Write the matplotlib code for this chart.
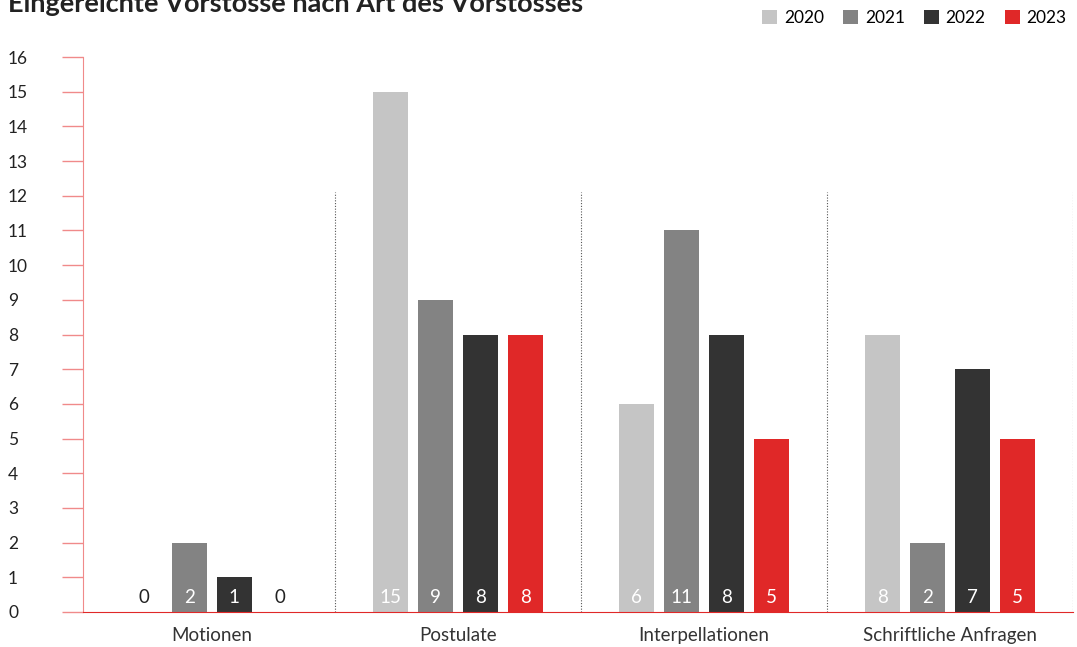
import matplotlib.pyplot as plt
import numpy as np

categories = ['Motionen', 'Postulate', 'Interpellationen', 'Schriftliche Anfragen']
years = ['2020', '2021', '2022', '2023']
values = {
    '2020': [0, 15, 6, 8],
    '2021': [2, 9, 11, 2],
    '2022': [1, 8, 8, 7],
    '2023': [0, 8, 5, 5],
}
colors = ['#c5c5c5', '#838383', '#333333', '#e02828']
yticks = list(range(0, 17))

plt.rcParams['font.family'] = ['Lato', 'DejaVu Sans']

fig = plt.figure(figsize=(10.77, 6.47), dpi=100)
ax = fig.add_axes([83 / 1077, 1 - 612 / 647, 990 / 1077, 555 / 647])

x = np.arange(len(categories))
step = 0.183
width = 0.143
for i, (year, color) in enumerate(zip(years, colors)):
    pos = x + (i - 1.5) * step
    bars = ax.bar(pos, values[year], width=width, color=color, label=year)
    for bar, v in zip(bars, values[year]):
        ax.text(bar.get_x() + bar.get_width() / 2, 0.42, str(v),
                ha='center', va='center', fontsize=13.5,
                color='white' if v > 0 else '#222222')

# dotted separators between groups
for b in [0.5, 1.5, 2.5, 3.5]:
    ax.plot([b, b], [0, 12.1], color='#555555', linestyle=(0, (1, 1.5)), linewidth=0.8)

ax.set_xlim(-0.524, 3.5)
ax.set_ylim(0, 16)
ax.set_xticks(x)
ax.set_xticklabels(categories, fontsize=13.5, color='#333333')
ax.set_yticks(yticks)
ax.set_yticklabels([str(t) for t in yticks], fontsize=12.5, color='#222222', ha='left')

for s in ['top', 'right']:
    ax.spines[s].set_visible(False)
ax.spines['left'].set_color('#f08a8a')
ax.spines['bottom'].set_color('#e02828')
ax.tick_params(axis='y', direction='out', length=15, width=1, color='#f08a8a', pad=39)
ax.tick_params(axis='x', length=0, pad=11)

ax.legend(loc='upper right', bbox_to_anchor=(1077 / 1077, 1.0), bbox_transform=fig.transFigure,
          ncol=4, frameon=False, fontsize=12.5, handlelength=0.85, handleheight=0.85,
          handletextpad=0.4, columnspacing=1.1, borderaxespad=0.2)

fig.text(8 / 1077, 1 - 12 / 647, 'Eingereichte Vorstösse nach Art des Vorstosses',
         fontsize=19.5, fontweight='bold', color='#222222', va='baseline')

plt.savefig('out.png', dpi=100)
